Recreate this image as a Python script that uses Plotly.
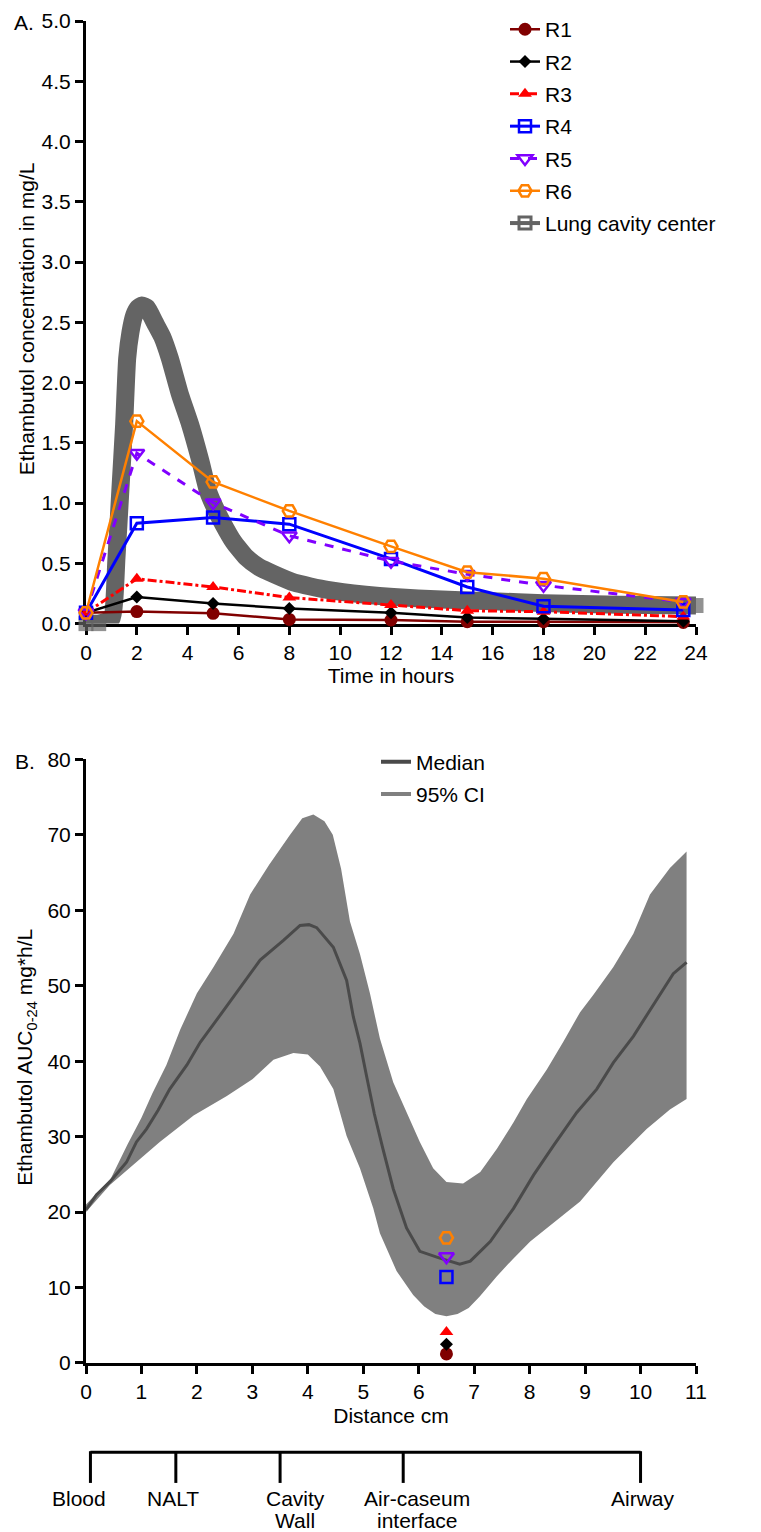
import plotly.graph_objects as go

# ---------------- Panel A data (concentration vs time) ----------------
times = [0, 2, 5, 8, 12, 15, 18, 23.5]
r1 = [0.09, 0.10, 0.085, 0.035, 0.03, 0.016, 0.016, 0.01]
r2 = [0.09, 0.22, 0.167, 0.126, 0.09, 0.05, 0.04, 0.02]
r3 = [0.09, 0.372, 0.304, 0.216, 0.154, 0.107, 0.099, 0.058]
r4 = [0.09, 0.833, 0.88, 0.825, 0.537, 0.304, 0.145, 0.113]
r5 = [0.09, 1.414, 1.003, 0.729, 0.518, 0.41, 0.318, 0.18]
r6 = [0.09, 1.68, 1.176, 0.935, 0.641, 0.427, 0.373, 0.18]

lung_t = [0, 0.5, 1.0, 1.2, 1.35, 1.5, 1.62, 1.75, 1.9, 2.05, 2.2, 2.4, 2.7, 3.0, 3.3,
          3.7, 4.1, 4.5, 4.8, 5.1, 5.4, 5.8, 6.3, 6.8, 7.4, 8.2, 9.5, 11, 12.1, 14, 16,
          18, 20, 22, 24]
lung_c = [0.0, 0.0, 0.04, 0.55, 1.1, 1.65, 2.2, 2.42, 2.56, 2.62, 2.64, 2.62, 2.5, 2.38, 2.2,
          1.9, 1.65, 1.35, 1.1, 0.95, 0.825, 0.68, 0.55, 0.47, 0.41, 0.34, 0.28, 0.24, 0.22,
          0.2, 0.185, 0.17, 0.16, 0.155, 0.15]

# ---------------- Panel B data (AUC vs distance) ----------------
upper_x = [0, 0.2, 0.45, 0.75, 1.0, 1.2, 1.45, 1.7, 2.0, 2.3, 2.66, 2.96, 3.3, 3.68, 3.9, 4.1,
           4.3, 4.45, 4.6, 4.76, 4.94, 5.12, 5.3, 5.54, 5.78, 6.02, 6.26, 6.5, 6.8, 7.11,
           7.41, 7.71, 7.95, 8.31, 8.61, 8.91, 9.15, 9.51, 9.87, 10.17, 10.53, 10.83]
upper_y = [21.0, 22.5, 24.5, 29.0, 32.5, 35.8, 39.5, 44.2, 49.0, 52.5, 56.9, 62.1, 66.0, 70.0,
           72.2, 72.7, 71.8, 70.0, 65.5, 58.5, 54.2, 49.0, 43.0, 37.2, 33.2, 29.3, 25.8, 24.0,
           23.8, 25.3, 28.4, 31.9, 35.0, 38.9, 42.6, 46.5, 48.8, 52.5, 56.9, 62.1, 65.6, 67.8]

lower_x = [0, 0.43, 0.85, 1.33, 1.94, 2.54, 3.0, 3.38, 3.74, 4.0, 4.22, 4.46, 4.7, 4.94, 5.18,
           5.3, 5.6, 5.9, 6.1, 6.3, 6.5, 6.7, 6.9, 7.1, 7.41, 7.7, 8.01, 8.91, 9.51, 10.11,
           10.53, 10.83]
lower_y = [20.0, 23.6, 26.2, 29.3, 32.8, 35.4, 37.6, 40.2, 41.1, 40.9, 39.3, 36.3, 30.1, 25.8,
           20.5, 17.2, 12.2, 9.0, 7.5, 6.5, 6.2, 6.5, 7.3, 8.8, 11.5, 13.8, 16.1, 21.4, 26.6,
           31.0, 33.6, 35.0]

median_x = [0, 0.19, 0.43, 0.73, 0.91, 1.09, 1.3, 1.51, 1.82, 2.06, 2.36, 2.66, 3.14, 3.56,
            3.86, 4.02, 4.16, 4.46, 4.7, 4.82, 4.94, 5.06, 5.2, 5.35, 5.54, 5.78, 6.02, 6.38,
            6.74, 6.93, 7.29, 7.71, 8.07, 8.43, 8.85, 9.21, 9.51, 9.87, 10.17, 10.59, 10.83]
median_y = [20.3, 22.3, 24.0, 26.6, 29.3, 31.0, 33.5, 36.3, 39.5, 42.5, 45.5, 48.5, 53.4, 56.0,
            58.0, 58.1, 57.7, 55.1, 50.7, 45.9, 42.4, 38.0, 33.0, 28.5, 23.1, 17.9, 14.8, 13.9,
            13.1, 13.5, 16.1, 20.5, 24.9, 28.8, 33.2, 36.3, 39.8, 43.3, 46.8, 51.6, 53.1]

obs_dist = 6.5
auc_r = [1.2, 2.5, 4.1, 11.4, 14.1, 16.6]

# Region annotation bracket (positions in cm)
region_line1 = ["Blood", "NALT", "Cavity", "Air-caseum", "Airway"]
region_line2 = ["", "", "Wall", "interface", ""]
region_ticks = [0.08, 1.62, 3.50, 5.72, 10.0]
region_label_x = [-0.13, 1.56, 3.77, 5.97, 10.04]

names = ["R1", "R2", "R3", "R4", "R5", "R6"]
series = [r1, r2, r3, r4, r5, r6]
colors = ["#800000", "#000000", "#ff0000", "#0000ff", "#8000ff", "#ff8000"]
symbols = ["circle", "diamond", "triangle-up", "square-open", "triangle-down-open", "hexagon2-open"]
msizes = [13, 10, 12, 12, 13, 13]
dashes = ["solid", "solid", "dashdot", "solid", "dash", "solid"]
lwidths = [2.5, 2.5, 3, 3, 3, 2.5]

FONT = "Liberation Sans, Arial, Helvetica, sans-serif"
FS = 21
GRAY_BAND = "#646464"

# pixel layout helpers
L, R, T, B = 86, 65, 9, 169
W, H = 761, 1532
PH = H - T - B
PW = W - L - R
X2_RANGE = [0, 11]


def py2paper(py):
    return (H - B - py) / PH


def px2paper(px):
    return (px - L) / PW


def cm2paper(cm):
    return (cm - X2_RANGE[0]) / (X2_RANGE[1] - X2_RANGE[0])


fig = go.Figure()

# Lung cavity center (thick band) - drawn first so other lines lie on top
n_l = len(lung_t)
lung_msize = [15 if (i < 2 or i == n_l - 1) else 0 for i in range(n_l)]
fig.add_trace(go.Scatter(
    x=lung_t, y=lung_c, mode="lines+markers", xaxis="x", yaxis="y",
    line=dict(color=GRAY_BAND, width=18, shape="spline", smoothing=0.5),
    marker=dict(symbol="square", size=lung_msize, color=GRAY_BAND, line=dict(width=0)),
    showlegend=False, cliponaxis=False, hoverinfo="skip"))

for i, (n, s, c, sym, ms, d, lw) in enumerate(zip(names, series, colors, symbols, msizes, dashes, lwidths)):
    open_sym = sym.endswith("open")
    fig.add_trace(go.Scatter(
        x=times, y=s, mode="lines+markers", name=n, xaxis="x", yaxis="y",
        line=dict(color=c, width=lw, dash=d),
        marker=dict(symbol=sym, size=ms, color=c,
                    line=dict(color=c, width=2.5 if open_sym else 0)),
        cliponaxis=False, legend="legend", legendgroup=n))

# legend-only entry for lung cavity center
fig.add_trace(go.Scatter(
    x=[None], y=[None], mode="lines+markers", name="Lung cavity center",
    xaxis="x", yaxis="y",
    line=dict(color=GRAY_BAND, width=4),
    marker=dict(symbol="square-open", size=12, color=GRAY_BAND, line=dict(width=3, color=GRAY_BAND)),
    legend="legend", legendgroup="lung"))

# ---------------- Panel B ----------------
ci_x = upper_x + lower_x[::-1]
ci_y = upper_y + lower_y[::-1]
fig.add_trace(go.Scatter(
    x=ci_x, y=ci_y, mode="lines", fill="toself", fillcolor="#808080",
    line=dict(width=0, color="#808080"), xaxis="x2", yaxis="y2",
    showlegend=False, hoverinfo="skip"))
fig.add_trace(go.Scatter(
    x=median_x, y=median_y, mode="lines", xaxis="x2", yaxis="y2",
    line=dict(color="#4a4a4a", width=3), showlegend=False))

for n, v, c, sym, ms in zip(names, auc_r, colors, symbols, msizes):
    open_sym = sym.endswith("open")
    fig.add_trace(go.Scatter(
        x=[obs_dist], y=[v], mode="markers", xaxis="x2", yaxis="y2",
        marker=dict(symbol=sym, size=ms, color=c,
                    line=dict(color=c, width=2.5 if open_sym else 0)),
        showlegend=False, cliponaxis=False))

# legend2 entries
fig.add_trace(go.Scatter(x=[None], y=[None], mode="lines", name="Median",
                         line=dict(color="#4a4a4a", width=4), xaxis="x2", yaxis="y2",
                         legend="legend2", legendgroup="med"))
fig.add_trace(go.Scatter(x=[None], y=[None], mode="lines", name="95% CI",
                         line=dict(color="#808080", width=4), xaxis="x2", yaxis="y2",
                         legend="legend2", legendgroup="ci"))

axis_common = dict(showline=True, linecolor="black", linewidth=3, ticks="outside",
                   ticklen=8, tickwidth=3, tickcolor="black", showgrid=False,
                   zeroline=False, tickfont=dict(size=FS, color="black", family=FONT))

dom_a = [py2paper(617), 1]
dom_b = [0, py2paper(754)]

fig.update_layout(
    width=W, height=H,
    margin=dict(l=L, r=R, t=T, b=B),
    paper_bgcolor="white", plot_bgcolor="white",
    font=dict(family=FONT, size=FS, color="black"),
    xaxis=dict(axis_common, domain=[0, 1], anchor="y", range=[0, 24], tick0=0, dtick=2,
               layer="below traces",
               title=dict(text="Time in hours", standoff=1, font=dict(size=FS))),
    yaxis=dict(axis_common, domain=dom_a, anchor="x", range=[0, 5], tick0=0, dtick=0.5,
               tickformat=".1f", layer="below traces"),
    xaxis2=dict(axis_common, domain=[0, 1], anchor="y2", range=X2_RANGE, tick0=0, dtick=1,
                title=dict(text="Distance cm", standoff=7, font=dict(size=FS))),
    yaxis2=dict(axis_common, domain=dom_b, anchor="x2", range=[0, 80], tick0=0, dtick=10),
    legend=dict(x=px2paper(505), y=py2paper(-3), xanchor="left", yanchor="top",
                font=dict(size=FS), bgcolor="rgba(0,0,0,0)", itemwidth=30,
                tracegroupgap=2),
    legend2=dict(x=px2paper(376), y=py2paper(736), xanchor="left", yanchor="top",
                 font=dict(size=FS), bgcolor="rgba(0,0,0,0)", itemwidth=30,
                 tracegroupgap=2),
)

annotations = [
    dict(text="A.", x=px2paper(24), y=py2paper(11), xref="paper", yref="paper",
         showarrow=False, xanchor="center", yanchor="middle", font=dict(size=FS)),
    dict(text="B.", x=px2paper(25), y=py2paper(756), xref="paper", yref="paper",
         showarrow=False, xanchor="center", yanchor="middle", font=dict(size=FS)),
    dict(text="Ethambutol concentration in mg/L", x=px2paper(26), y=py2paper(310),
         xref="paper", yref="paper", showarrow=False, textangle=-90,
         xanchor="center", yanchor="middle", font=dict(size=FS)),
    dict(text="Ethambutol AUC<sub>0-24</sub> mg*h/L", x=px2paper(26), y=py2paper(1055),
         xref="paper", yref="paper", showarrow=False, textangle=-90,
         xanchor="center", yanchor="middle", font=dict(size=FS)),
]
for l1, l2, lx in zip(region_line1, region_line2, region_label_x):
    annotations.append(dict(text=l1, x=cm2paper(lx), y=py2paper(1500), xref="paper",
                            yref="paper", showarrow=False, xanchor="center",
                            yanchor="middle", font=dict(size=FS)))
    if l2:
        annotations.append(dict(text=l2, x=cm2paper(lx), y=py2paper(1522), xref="paper",
                                yref="paper", showarrow=False, xanchor="center",
                                yanchor="middle", font=dict(size=FS)))
fig.update_layout(annotations=annotations)

shapes = [dict(type="line", xref="paper", yref="paper", x0=cm2paper(region_ticks[0]),
               x1=cm2paper(region_ticks[-1]), y0=py2paper(1453), y1=py2paper(1453),
               line=dict(color="black", width=3))]
for tx in region_ticks:
    shapes.append(dict(type="line", xref="paper", yref="paper", x0=cm2paper(tx), x1=cm2paper(tx),
                       y0=py2paper(1452), y1=py2paper(1484), line=dict(color="black", width=3)))
fig.update_layout(shapes=shapes)

fig.write_html("out.html")
